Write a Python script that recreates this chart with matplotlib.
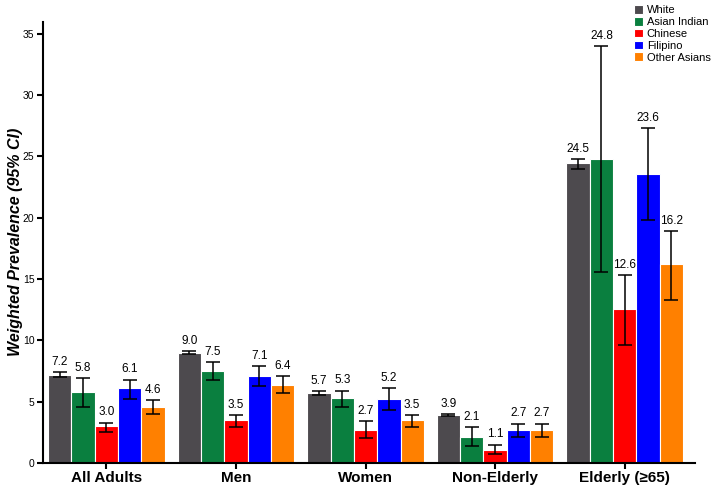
import numpy as np
import matplotlib
matplotlib.use('Agg')
import matplotlib.pyplot as plt

plt.rcParams['font.family'] = ['Liberation Sans', 'DejaVu Sans']

groups = ['All Adults', 'Men', 'Women', 'Non-Elderly', 'Elderly (\u226565)']
series = ['White', 'Asian Indian', 'Chinese', 'Filipino', 'Other Asians']
colors = ['#4d4a4e', '#0a7f3f', '#ff0000', '#0000ff', '#ff8000']

# prevalence per series, one value per group
values = [
    [7.2, 9.0, 5.7, 3.9, 24.5],
    [5.8, 7.5, 5.3, 2.1, 24.8],
    [3.0, 3.5, 2.7, 1.1, 12.6],
    [6.1, 7.1, 5.2, 2.7, 23.6],
    [4.6, 6.4, 3.5, 2.7, 16.2],
]
ci_low = [
    [7.0, 8.9, 5.55, 3.8, 24.0],
    [4.6, 6.8, 4.6, 1.4, 15.6],
    [2.5, 2.9, 2.0, 0.7, 9.6],
    [5.2, 6.3, 4.3, 2.1, 19.8],
    [4.0, 5.7, 2.9, 2.1, 13.3],
]
ci_high = [
    [7.4, 9.1, 5.85, 4.0, 24.8],
    [6.9, 8.2, 5.9, 2.9, 34.0],
    [3.3, 3.9, 3.4, 1.5, 15.3],
    [6.8, 7.9, 6.1, 3.2, 27.3],
    [5.1, 7.1, 3.9, 3.2, 18.9],
]

fig = plt.figure(figsize=(7.14, 4.91), dpi=100)
ax = fig.add_axes([0.060, 0.057, 0.913, 0.899])

x = np.arange(len(groups))
w = 0.18
for i in range(len(series)):
    pos = x + (i - 2) * w
    v = np.array(values[i])
    lo = v - np.array(ci_low[i])
    hi = np.array(ci_high[i]) - v
    ax.bar(pos, v, width=w, color=colors[i], edgecolor='white', linewidth=0.8, label=series[i])
    ax.errorbar(pos, v, yerr=[lo, hi], fmt='none', ecolor='black', elinewidth=1.1, capsize=5, capthick=1.1)
    for p, val, top in zip(pos, v, ci_high[i]):
        ax.text(p, top + 0.35, '%.1f' % val, ha='center', va='bottom', fontsize=8.5)

ax.set_xlim(-0.49, 4.54)
ax.set_ylim(0, 36)
ax.set_yticks(range(0, 36, 5))
ax.set_xticks(x)
ax.set_xticklabels(groups, fontsize=11, fontweight='bold')
for lab in ax.get_yticklabels():
    lab.set_fontsize(7.5)
ax.set_ylabel('Weighted Prevalence (95% CI)', fontsize=11.5, fontweight='bold', style='italic')
ax.yaxis.set_label_coords(-0.031, 0.5)
ax.spines['top'].set_visible(False)
ax.spines['right'].set_visible(False)
ax.spines['left'].set_linewidth(1.5)
ax.spines['bottom'].set_linewidth(1.5)
ax.tick_params(axis='both', width=1.5, length=4, pad=2)

fig.legend(loc='upper left', bbox_to_anchor=(0.877, 1.005), frameon=False, fontsize=8,
           handlelength=0.8, handleheight=0.8, handletextpad=0.35, labelspacing=0.15, borderpad=0.2)

fig.savefig('out.png', dpi=100)
